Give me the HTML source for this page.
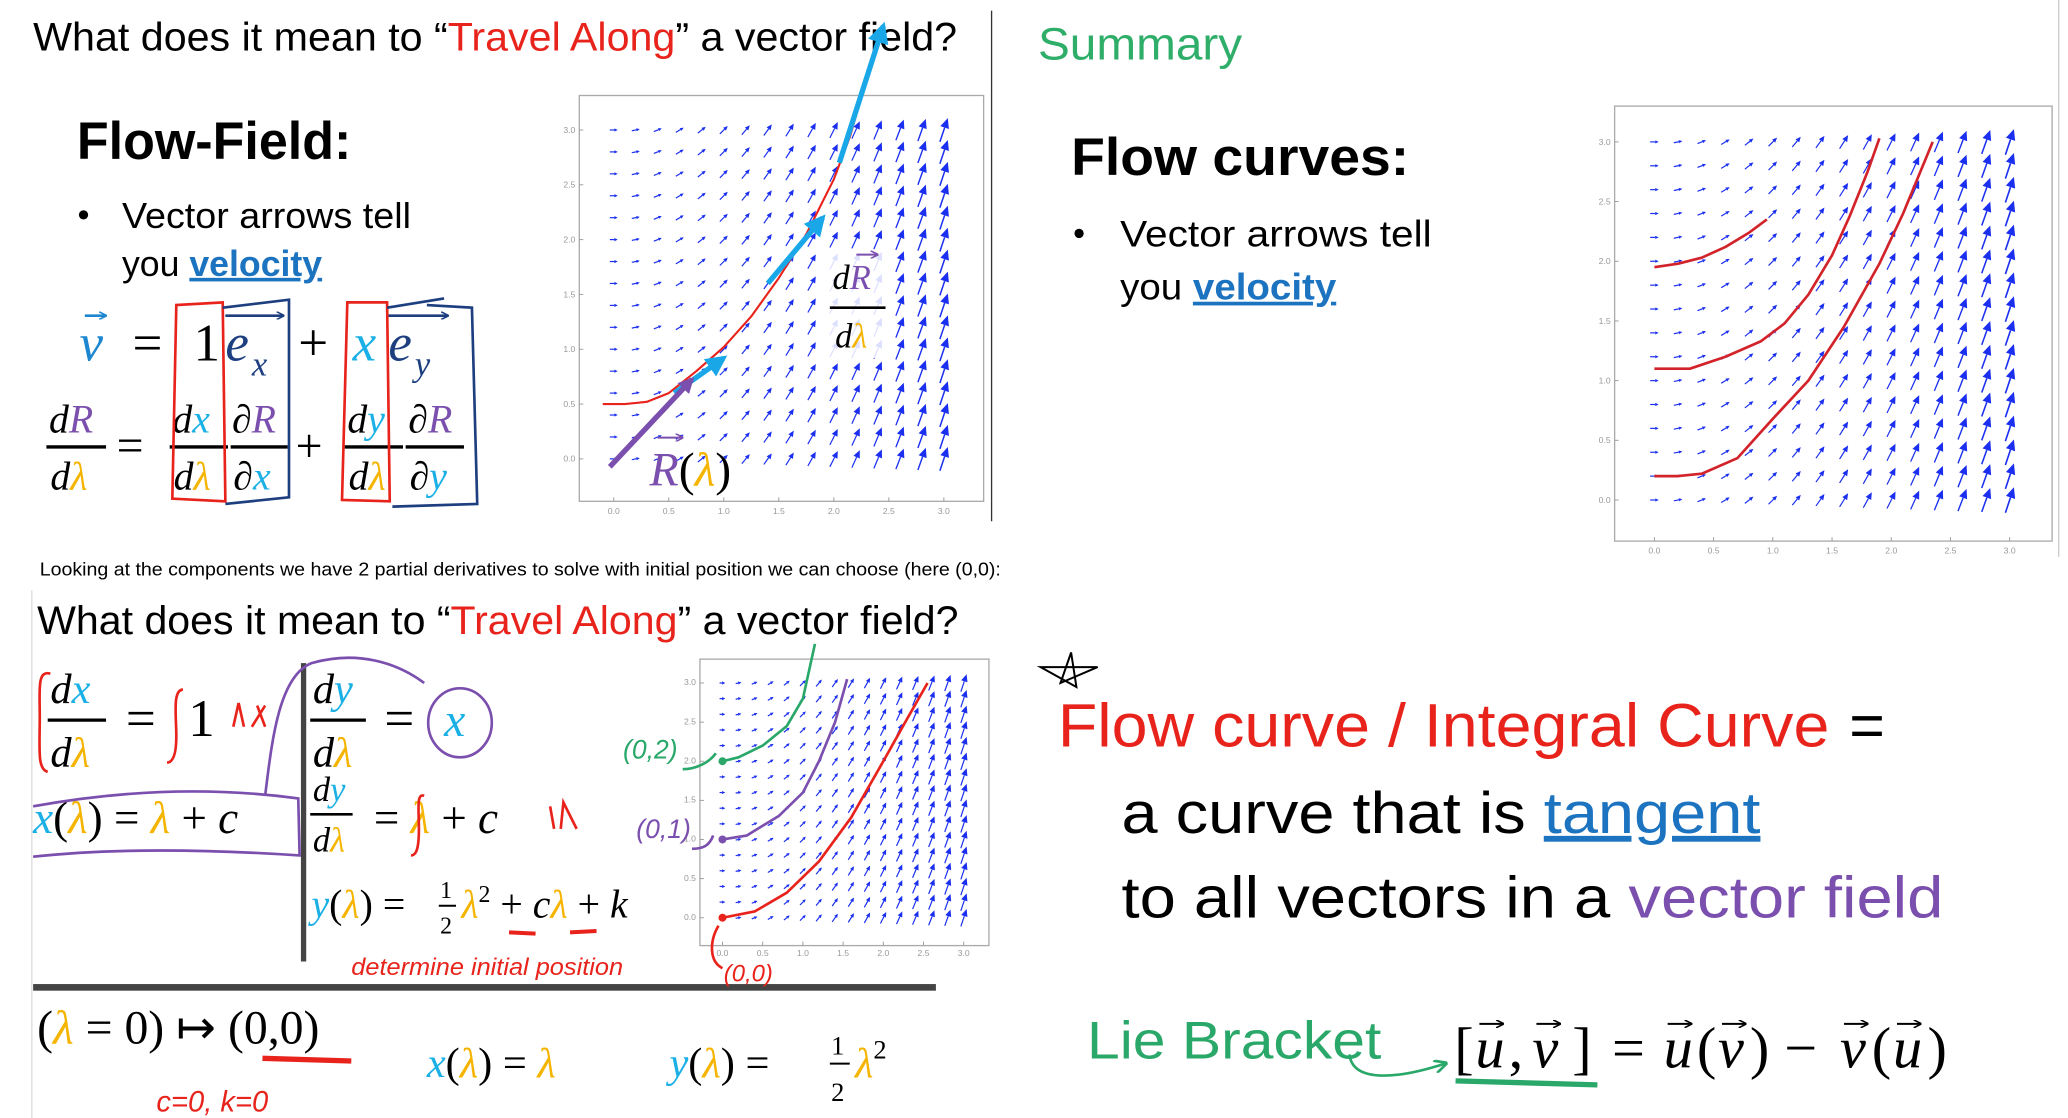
<!DOCTYPE html>
<html><head><meta charset="utf-8"><style>
html,body{margin:0;padding:0;background:#fff;}
svg{display:block}
.s{font-family:"Liberation Sans",sans-serif}
.m{font-family:"Liberation Serif",serif;font-style:italic}
.r{font-family:"Liberation Serif",serif}
.tk{font-family:"Liberation Sans",sans-serif;font-size:6.5px;fill:#999}
</style></head><body>
<svg id="root" width="2068" height="1118" viewBox="0 0 1560 843" preserveAspectRatio="none">
<defs>
<marker id="ah" viewBox="0 0 10 10" refX="8" refY="5" markerWidth="4" markerHeight="4" orient="auto"><path d="M0,0 L10,5 L0,10z" fill="#1aa7e8"/></marker>
<marker id="ahp" viewBox="0 0 10 10" refX="8" refY="5" markerWidth="3" markerHeight="3" orient="auto"><path d="M0,0 L10,5 L0,10z" fill="#7b4fae"/></marker>
<marker id="ahg" viewBox="0 0 10 10" refX="8" refY="5" markerWidth="5" markerHeight="5" orient="auto"><path d="M0,0 L10,5 L0,10" fill="none" stroke="#2aa86a" stroke-width="2"/></marker>
<marker id="va" viewBox="0 0 10 10" refX="9" refY="5" markerWidth="6" markerHeight="6" markerUnits="userSpaceOnUse" orient="auto"><path d="M0,0 L10,5 L0,10" fill="none" stroke="context-stroke" stroke-width="2"/></marker>
</defs>

<!-- ===== Top-left panel ===== -->
<g>
<text class="s" x="25" y="38" font-size="30" textLength="697" lengthAdjust="spacingAndGlyphs">What does it mean to “<tspan fill="#e8231b">Travel Along</tspan>” a vector field?</text>
<text class="s" x="58" y="120" font-size="40" font-weight="bold" textLength="207" lengthAdjust="spacingAndGlyphs">Flow-Field:</text>
<circle cx="63" cy="162" r="3.5" fill="#000"/>
<text class="s" x="92" y="172" font-size="27" textLength="218" lengthAdjust="spacingAndGlyphs">Vector arrows tell</text>
<text class="s" x="92" y="208" font-size="27" textLength="151" lengthAdjust="spacingAndGlyphs">you <tspan fill="#1c73c0" font-weight="bold" text-decoration="underline">velocity</tspan></text>
<g>
<text class="m" x="60" y="272" font-size="40" fill="#1c86d1">v</text>
<line x1="64" y1="238" x2="80" y2="238" stroke="#1c86d1" stroke-width="2" marker-end="url(#va)"/>
<text class="r" x="100" y="272" font-size="40">=</text>
<text class="r" x="146" y="272" font-size="40">1</text>
<text class="m" x="170" y="272" font-size="40" fill="#1d3f80">e</text><text class="m" x="190" y="283" font-size="26" fill="#1d3f80">x</text>
<line x1="170" y1="238" x2="214" y2="238" stroke="#1d3f80" stroke-width="2" marker-end="url(#va)"/>
<text class="r" x="225" y="272" font-size="40">+</text>
<text class="m" x="266" y="272" font-size="40" fill="#1ab0e6">x</text>
<text class="m" x="293" y="272" font-size="40" fill="#1d3f80">e</text><text class="m" x="313" y="283" font-size="26" fill="#1d3f80">y</text>
<line x1="293" y1="238" x2="338" y2="238" stroke="#1d3f80" stroke-width="2" marker-end="url(#va)"/>
</g>
<g font-size="30">
<text class="m" x="37" y="326">d<tspan fill="#7b4fae">R</tspan></text><line x1="35" y1="337" x2="80" y2="337" stroke="#000" stroke-width="2.5"/><text class="m" x="38" y="369">d<tspan fill="#f5b400">λ</tspan></text>
<text class="r" x="88" y="348" font-size="36">=</text>
<text class="m" x="130" y="326">d<tspan fill="#1ab0e6">x</tspan></text><line x1="128" y1="337" x2="172" y2="337" stroke="#000" stroke-width="2.5"/><text class="m" x="131" y="369">d<tspan fill="#f5b400">λ</tspan></text>
<text class="m" x="175" y="326">∂<tspan fill="#7b4fae">R</tspan></text><line x1="174" y1="337" x2="217" y2="337" stroke="#000" stroke-width="2.5"/><text class="m" x="176" y="369">∂<tspan fill="#1ab0e6">x</tspan></text>
<text class="r" x="223" y="348" font-size="36">+</text>
<text class="m" x="262" y="326">d<tspan fill="#1ab0e6">y</tspan></text><line x1="260" y1="337" x2="304" y2="337" stroke="#000" stroke-width="2.5"/><text class="m" x="263" y="369">d<tspan fill="#f5b400">λ</tspan></text>
<text class="m" x="308" y="326">∂<tspan fill="#7b4fae">R</tspan></text><line x1="306" y1="337" x2="350" y2="337" stroke="#000" stroke-width="2.5"/><text class="m" x="309" y="369">∂<tspan fill="#1ab0e6">y</tspan></text>
</g>
<g fill="none" stroke-width="2">
<path d="M133,230 L130,376 L170,378 L168,228 Z" stroke="#e8231b"/>
<path d="M168,232 L218,226 L218,375 L170,380" stroke="#1d3f80"/>
<path d="M262,228 L258,377 L294,378 L292,228 Z" stroke="#e8231b"/>
<path d="M292,232 L335,225 M322,230 L356,232 L360,380 L296,382" stroke="#1d3f80"/>
</g>
<line x1="748" y1="8" x2="748" y2="393" stroke="#333" stroke-width="1"/>
</g>
<g id="plot1"></g>
<g>
<rect x="622" y="190" width="50" height="80" fill="#fff" opacity="0.85"/>
<text class="m" x="628" y="218" font-size="26">d<tspan fill="#7b4fae">R</tspan></text>
<line x1="646" y1="192" x2="662" y2="192" stroke="#7b4fae" stroke-width="1.5" marker-end="url(#va)"/>
<line x1="626" y1="232" x2="668" y2="232" stroke="#000" stroke-width="2"/>
<text class="m" x="630" y="262" font-size="26">d<tspan fill="#f5b400">λ</tspan></text>
<line x1="460" y1="352" x2="522" y2="286" stroke="#7b4fae" stroke-width="4" marker-end="url(#ahp)"/>
<text class="m" x="490" y="366" font-size="36" fill="#7b4fae">R<tspan class="r" fill="#000" font-style="normal">(</tspan><tspan fill="#f5b400">λ</tspan><tspan class="r" fill="#000" font-style="normal">)</tspan></text>
<line x1="496" y1="330" x2="515" y2="330" stroke="#7b4fae" stroke-width="1.5" marker-end="url(#va)"/>
</g>

<!-- ===== Top-right panel ===== -->
<g>
<text class="s" x="783" y="45" font-size="34" fill="#2fae6a" textLength="154" lengthAdjust="spacingAndGlyphs">Summary</text>
<text class="s" x="808" y="132" font-size="40" font-weight="bold" textLength="255" lengthAdjust="spacingAndGlyphs">Flow curves:</text>
<circle cx="814" cy="176" r="3.5" fill="#000"/>
<text class="s" x="845" y="186" font-size="28" textLength="235" lengthAdjust="spacingAndGlyphs">Vector arrows tell</text>
<text class="s" x="845" y="226" font-size="28" textLength="163" lengthAdjust="spacingAndGlyphs">you <tspan fill="#1c73c0" font-weight="bold" text-decoration="underline">velocity</tspan></text>
<line x1="1553" y1="0" x2="1553" y2="420" stroke="#ccc" stroke-width="1"/>
</g>
<g id="plot2"></g>

<!-- ===== Middle caption ===== -->
<text class="s" x="30" y="434" font-size="14" textLength="725" lengthAdjust="spacingAndGlyphs">Looking at the components we have 2 partial derivatives to solve with initial position we can choose (here (0,0):</text>

<!-- ===== Bottom-left ===== -->
<g>
<line x1="24" y1="445" x2="24" y2="843" stroke="#ddd" stroke-width="1"/>
<text class="s" x="28" y="478" font-size="30" textLength="695" lengthAdjust="spacingAndGlyphs">What does it mean to “<tspan fill="#e8231b">Travel Along</tspan>” a vector field?</text>
<rect x="227" y="500" width="4" height="225" fill="#444"/>
<rect x="25" y="742" width="681" height="5" fill="#444"/>
<g font-size="32">
<text class="m" x="38" y="530">d<tspan fill="#1ab0e6">x</tspan></text><line x1="36" y1="543" x2="80" y2="543" stroke="#000" stroke-width="2.5"/><text class="m" x="38" y="578">d<tspan fill="#f5b400">λ</tspan></text>
<text class="r" x="95" y="555" font-size="40">=</text>
<text class="r" x="142" y="555" font-size="40">1</text>
<text class="m" x="236" y="530">d<tspan fill="#1ab0e6">y</tspan></text><line x1="234" y1="543" x2="276" y2="543" stroke="#000" stroke-width="2.5"/><text class="m" x="236" y="578">d<tspan fill="#f5b400">λ</tspan></text>
<text class="r" x="290" y="555" font-size="40">=</text>
<text class="m" x="335" y="555" font-size="36" fill="#1ab0e6">x</text>
<text class="m" x="25" y="628" font-size="34"><tspan fill="#1ab0e6">x</tspan><tspan class="r" font-style="normal">(</tspan><tspan fill="#f5b400">λ</tspan><tspan class="r" font-style="normal">) = </tspan><tspan fill="#f5b400">λ</tspan><tspan class="r" font-style="normal"> + </tspan>c</text>
<text class="m" x="236" y="604" font-size="26">d<tspan fill="#1ab0e6">y</tspan></text><line x1="234" y1="614" x2="266" y2="614" stroke="#000" stroke-width="2"/><text class="m" x="236" y="642" font-size="26">d<tspan fill="#f5b400">λ</tspan></text>
<text class="r" x="282" y="628" font-size="34">= <tspan fill="#f5b400" font-style="italic">λ</tspan> + <tspan font-style="italic">c</tspan></text>
<text class="m" x="235" y="692" font-size="30"><tspan fill="#1ab0e6">y</tspan><tspan class="r" font-style="normal">(</tspan><tspan fill="#f5b400">λ</tspan><tspan class="r" font-style="normal">) = </tspan></text>
<text class="r" x="332" y="677" font-size="18">1</text><line x1="331" y1="683" x2="344" y2="683" stroke="#000" stroke-width="1.5"/><text class="r" x="332" y="704" font-size="18">2</text>
<text class="m" x="348" y="692" font-size="30"><tspan fill="#f5b400">λ</tspan><tspan class="r" font-style="normal" font-size="18" dy="-12">2</tspan><tspan class="r" font-style="normal" dy="12"> + </tspan>c<tspan fill="#f5b400">λ</tspan><tspan class="r" font-style="normal"> + </tspan>k</text>
</g>
<g fill="none" stroke="#e8231b" stroke-width="2">
<path d="M38,508 C28,505 30,520 30,540 C30,565 28,580 36,582"/>
<path d="M138,520 C130,520 133,540 133,555 C133,570 130,575 126,575"/>
<path d="M176,548 L180,530 M184,548 L180,530 M190,548 L200,532 M194,532 L200,548"/>
<path d="M320,600 C314,598 316,610 316,625 C316,640 314,645 310,645"/>
<path d="M415,608 L418,625 M423,625 L425,605 L435,625"/>
<path d="M384,703 L404,704 M430,703 L450,702" stroke-width="3"/>
</g>
<text class="s" x="265" y="735" font-size="18" fill="#e8231b" font-style="italic" textLength="205" lengthAdjust="spacingAndGlyphs">determine initial position</text>
<g fill="none" stroke="#7b4fae" stroke-width="2">
<path d="M25,608 C80,598 150,592 225,602 L226,645 C150,640 80,640 25,646"/>
<path d="M200,600 C205,560 210,510 235,500 C270,490 300,500 320,515"/>
<ellipse cx="347" cy="545" rx="24" ry="26"/>
</g>
<g>
<text class="r" x="28" y="787" font-size="36">(<tspan fill="#f5b400" font-style="italic">λ</tspan> = 0) ↦ (0,0)</text>
<path d="M198,798 L265,800" stroke="#e8231b" stroke-width="4"/>
<text class="s" x="118" y="838" font-size="22" fill="#e8231b" font-style="italic">c=0, k=0</text>
<text class="m" x="322" y="812" font-size="32"><tspan fill="#1ab0e6">x</tspan><tspan class="r" font-style="normal">(</tspan><tspan fill="#f5b400">λ</tspan><tspan class="r" font-style="normal">) = </tspan><tspan fill="#f5b400">λ</tspan></text>
<text class="m" x="505" y="812" font-size="32"><tspan fill="#1ab0e6">y</tspan><tspan class="r" font-style="normal">(</tspan><tspan fill="#f5b400">λ</tspan><tspan class="r" font-style="normal">) = </tspan></text>
<text class="r" x="627" y="795" font-size="20">1</text><line x1="626" y1="802" x2="641" y2="802" stroke="#000" stroke-width="1.5"/><text class="r" x="627" y="830" font-size="20">2</text>
<text class="m" x="645" y="812" font-size="32" fill="#f5b400">λ<tspan class="r" fill="#000" font-style="normal" font-size="20" dy="-14">2</tspan></text>
</g>
</g>
<g id="plot3"></g>
<g font-family="Liberation Sans, sans-serif" font-style="italic">
<text x="470" y="572" font-size="20" fill="#2aa86a">(0,2)</text>
<text x="480" y="632" font-size="20" fill="#7b4fae">(0,1)</text>
<text x="546" y="740" font-size="18" fill="#e8231b">(0,0)</text>
<path d="M515,580 C525,580 535,575 540,568" fill="none" stroke="#2aa86a" stroke-width="2"/>
<path d="M522,640 C530,640 535,638 538,630" fill="none" stroke="#7b4fae" stroke-width="2"/>
<path d="M545,730 C535,725 535,710 542,698" fill="none" stroke="#e8231b" stroke-width="2"/>
</g>

<!-- ===== Bottom-right ===== -->
<g>
<path d="M808,492 L800,515 L828,503 L785,503 L812,518 Z" fill="none" stroke="#000" stroke-width="1.5"/>
<text class="s" x="798" y="563" font-size="46" fill="#e8231b" textLength="582" lengthAdjust="spacingAndGlyphs">Flow curve / Integral Curve</text>
<text class="s" x="1395" y="563" font-size="46">=</text>
<text class="s" x="846" y="628" font-size="44" textLength="482" lengthAdjust="spacingAndGlyphs">a curve that is <tspan fill="#1c73c0" text-decoration="underline">tangent</tspan></text>
<text class="s" x="846" y="692" font-size="44" textLength="620" lengthAdjust="spacingAndGlyphs">to all vectors in a <tspan fill="#7b4fae">vector field</tspan></text>
<text class="s" x="820" y="798" font-size="40" fill="#2aa86a" textLength="222" lengthAdjust="spacingAndGlyphs">Lie Bracket</text>
<path d="M1018,795 C1020,815 1050,815 1090,802" fill="none" stroke="#2aa86a" stroke-width="2" marker-end="url(#ahg)"/>
<path d="M1098,815 L1205,818" stroke="#2aa86a" stroke-width="4"/>
<g font-size="44">
<text class="r" x="1097" y="805">[</text>
<text class="m" x="1113" y="805">u</text>
<text class="r" x="1138" y="805">,</text>
<text class="m" x="1156" y="805">v</text>
<text class="r" x="1186" y="805">]</text>
<text class="r" x="1216" y="805">=</text>
<text class="m" x="1255" y="805">u</text>
<text class="r" x="1280" y="805">(</text>
<text class="m" x="1296" y="805">v</text>
<text class="r" x="1320" y="805">)</text>
<text class="r" x="1346" y="805">−</text>
<text class="m" x="1388" y="805">v</text>
<text class="r" x="1412" y="805">(</text>
<text class="m" x="1428" y="805">u</text>
<text class="r" x="1454" y="805">)</text>
<g stroke="#000" stroke-width="1.5">
<line x1="1116" y1="772" x2="1134" y2="772" marker-end="url(#va)"/><line x1="1159" y1="772" x2="1177" y2="772" marker-end="url(#va)"/>
<line x1="1258" y1="772" x2="1276" y2="772" marker-end="url(#va)"/><line x1="1299" y1="772" x2="1317" y2="772" marker-end="url(#va)"/>
<line x1="1391" y1="772" x2="1409" y2="772" marker-end="url(#va)"/><line x1="1431" y1="772" x2="1449" y2="772" marker-end="url(#va)"/>
</g>
</g>
</g>
</svg>
<script>
// grid of sample points and field (dx/dλ = 1, dy/dλ = x)
const gridX = [0,0.2,0.4,0.6,0.8,1.0,1.2,1.4,1.6,1.8,2.0,2.2,2.4,2.6,2.8,3.0];
const gridY = [0,0.2,0.4,0.6,0.8,1.0,1.2,1.4,1.6,1.8,2.0,2.2,2.4,2.6,2.8,3.0];
const tickLabels = ["0.0","0.5","1.0","1.5","2.0","2.5","3.0"];
const tickValues = [0,0.5,1,1.5,2,2.5,3];
// plot 1 curve (drawn flow) and tangent arrows
const curve1X = [-0.1,0.1,0.3,0.5,0.75,1.0,1.25,1.5,1.75,2.0,2.15,2.25];
const curve1Y = [0.5,0.5,0.52,0.6,0.8,1.02,1.3,1.65,2.05,2.55,2.95,3.3];
const tangent1 = [[0.55,0.6,1.0,0.92],[1.4,1.6,1.9,2.2],[2.05,2.7,2.45,3.95]];
// plot 2 flow curves
const c2aX = [0,0.2,0.4,0.6,0.8,0.95];
const c2aY = [1.95,1.98,2.03,2.12,2.24,2.35];
const c2bX = [0,0.3,0.6,0.9,1.1,1.3,1.5,1.65,1.8,1.9];
const c2bY = [1.1,1.1,1.2,1.33,1.48,1.72,2.05,2.38,2.75,3.03];
const c2cX = [0,0.2,0.4,0.7,1.0,1.3,1.6,1.9,2.1,2.35];
const c2cY = [0.2,0.2,0.22,0.35,0.68,1.0,1.45,1.98,2.4,3.0];
// plot 3 flow curves
const c3gX = [0,0.2,0.5,0.8,1.0,1.15];
const c3gY = [2.0,2.05,2.2,2.45,2.8,3.5];
const c3pX = [0,0.3,0.7,1.0,1.2,1.4,1.55];
const c3pY = [1.0,1.05,1.3,1.6,2.0,2.5,3.05];
const c3rX = [0,0.4,0.8,1.2,1.6,2.0,2.3,2.55];
const c3rY = [0.0,0.08,0.32,0.72,1.28,2.0,2.55,3.0];

const NS="http://www.w3.org/2000/svg";
function mk(t,a,p){const e=document.createElementNS(NS,t);for(const k in a)e.setAttribute(k,a[k]);p.appendChild(e);return e;}

function makePlot(g, fr, ax, lenK, tickSize){
  const sx = v => ax.x0 + (ax.x3-ax.x0)*v/3;
  const sy = v => ax.y0 + (ax.y3-ax.y0)*v/3;
  const frame = mk('rect',{x:fr.x,y:fr.y,width:fr.w,height:fr.h,fill:'#fff',stroke:'#aaa','stroke-width':1},g);
  
  
  tickValues.forEach((v,i)=>{
    const tx = mk('text',{x:sx(v),y:fr.y+fr.h+tickSize+3,'text-anchor':'middle',class:'tk','font-size':tickSize},g);
    tx.textContent = tickLabels[i];
    
    
    const ty = mk('text',{x:fr.x-3,y:sy(v)+tickSize/3,'text-anchor':'end',class:'tk','font-size':tickSize},g);
    ty.textContent = tickLabels[i];
    
    
    mk('line',{x1:sx(v),y1:fr.y+fr.h,x2:sx(v),y2:fr.y+fr.h-3,stroke:'#999','stroke-width':0.7},g);
    mk('line',{x1:fr.x,y1:sy(v),x2:fr.x+3,y2:sy(v),stroke:'#999','stroke-width':0.7},g);
  });
  const cell = (ax.x3-ax.x0)/15;
  gridX.forEach(x=>gridY.forEach(y=>{
    const vx=1, vy=x, m=Math.hypot(vx,vy);
    const L = lenK*m*cell, ux=vx/m, uy=-vy/m;
    const cx=sx(x), cy=sy(y);
    const x1=cx-ux*L/2, y1=cy-uy*L/2, x2=cx+ux*L/2, y2=cy+uy*L/2;
    const hw = Math.max(1.2, L*0.18), hl = Math.max(2.5, L*0.4);
    const bx=x2-ux*hl, by=y2-uy*hl;
    const a = mk('path',{d:`M${x1},${y1}L${bx},${by}`,stroke:'#1b2ff0','stroke-width':Math.max(0.9,L*0.06),fill:'none'},g);
    
    
    const h = mk('path',{d:`M${x2},${y2}L${bx-uy*hw},${by+ux*hw}L${bx+uy*hw},${by-ux*hw}Z`,fill:'#1b2ff0'},g);
    
    
  }));
  return {sx,sy};
}
function curve(g,m,X,Y,col,w,name){
  const d = X.map((x,i)=>(i?'L':'M')+m.sx(x)+','+m.sy(Y[i])).join('');
  const p = mk('path',{d:d,fill:'none',stroke:col,'stroke-width':w,'stroke-linejoin':'round'},g);
  
  
}

const g1=document.getElementById('plot1');
const m1=makePlot(g1,{x:437,y:72,w:305,h:306},{x0:463,x3:712,y0:346,y3:98},0.36,6.5);
curve(g1,m1,curve1X,curve1Y,'#e8231b',1.6,'flow-curve-red');
tangent1.forEach(t=>{
  const ln = mk('line',{x1:m1.sx(t[0]),y1:m1.sy(t[1]),x2:m1.sx(t[2]),y2:m1.sy(t[3]),stroke:'#1aa7e8','stroke-width':4,'marker-end':'url(#ah)'},g1);
  
  
});

const g2=document.getElementById('plot2');
const m2=makePlot(g2,{x:1218,y:80,w:330,h:328},{x0:1248,x3:1516,y0:377,y3:107},0.36,6.5);
curve(g2,m2,c2aX,c2aY,'#d3232a',2,'flow-curve-1');
curve(g2,m2,c2bX,c2bY,'#d3232a',2,'flow-curve-2');
curve(g2,m2,c2cX,c2cY,'#d3232a',2,'flow-curve-3');

const g3=document.getElementById('plot3');
const m3=makePlot(g3,{x:528,y:497,w:218,h:216},{x0:545,x3:727,y0:692,y3:515},0.36,5);
curve(g3,m3,c3gX,c3gY,'#2aa86a',2,'flow-curve-green');
curve(g3,m3,c3pX,c3pY,'#7b4fae',2,'flow-curve-purple');
curve(g3,m3,c3rX,c3rY,'#e8231b',2,'flow-curve-red');
[[0,2,'#2aa86a'],[0,1,'#7b4fae'],[0,0,'#e8231b']].forEach(p=>{
  const c=mk('circle',{cx:m3.sx(p[0]),cy:m3.sy(p[1]),r:3,fill:p[2]},g3);
  
  
});
</script>
</body></html>
